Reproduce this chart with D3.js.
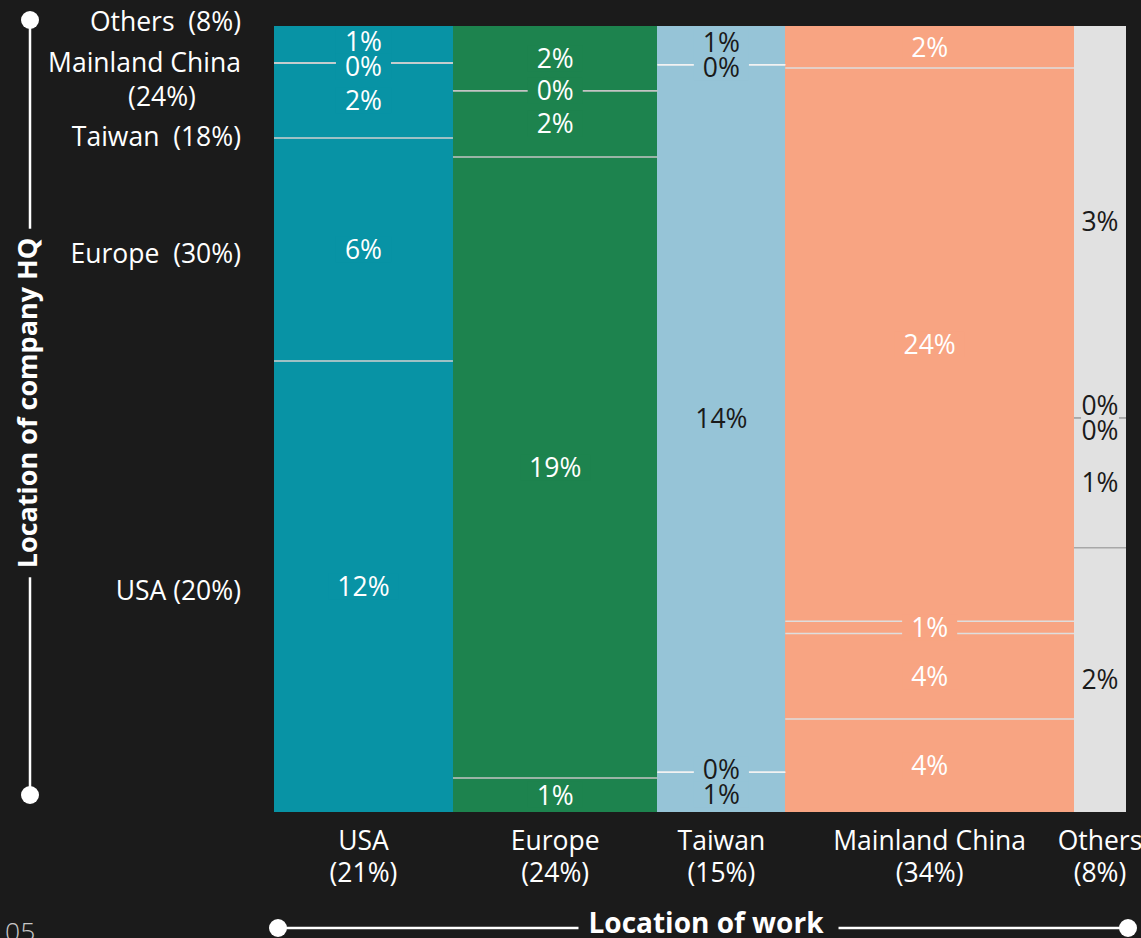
<!DOCTYPE html>
<html><head><meta charset="utf-8">
<script src="https://cdn.jsdelivr.net/npm/d3@7"></script>
<style>
html,body{margin:0;padding:0;background:#1b1b1b;}
svg{display:block;font-family:"Open Sans","Noto Sans",sans-serif;}
text{white-space:pre;}
</style></head><body>
<svg id="chart" width="1141" height="938"></svg>
<script>
// ---------------- data ----------------
const workLocations = ["USA", "Europe", "Taiwan", "Mainland China", "Others"];
const workShareLabels = ["(21%)", "(24%)", "(15%)", "(34%)", "(8%)"];
const hqLocations = ["USA", "Europe", "Taiwan", "Mainland China", "Others"];
const hqLabelLines = [["USA (20%)"], ["Europe  (30%)"], ["Taiwan  (18%)"], ["Mainland China", "(24%)"], ["Others  (8%)"]];
// share of all workers (%) by HQ location [USA, Europe, Taiwan, Mainland China, Others], per work location
const workInUSA    = [12.05, 5.96, 2.00, 0, 0.99];
const workInEurope = [1.04, 18.96, 2.02, 0, 1.98];
const workInTaiwan = [0.76, 0, 13.50, 0, 0.74];
const workInChina  = [4.01, 3.68, 0.53, 23.85, 1.81];
const workInOthers = [2.05, 1.01, 0, 0, 3.04];
const columnColors = ["#0893a5", "#1d834e", "#96c4d7", "#f8a482", "#e1e1e1"];
const cellTextColors = ["#ffffff", "#ffffff", "#1a1a1a", "#ffffff", "#1a1a1a"];
const separatorColors = ["#d0d0d0", "#c4c4c4", "#f2f2f2", "#dedede", "#a8a8a8"];
const yTitle = "Location of company HQ";
const xTitle = "Location of work";
const pageNumber = "05";

// ---------------- layout ----------------
const W = 1141, H = 938;
const plot = {left: 274, right: 1126, top: 26, bottom: 812};
const FS = 26.5;

const svg = d3.select("#chart");
svg.append("rect").attr("width", W).attr("height", H).attr("fill", "#1b1b1b");

const columnValues = [workInUSA, workInEurope, workInTaiwan, workInChina, workInOthers];
let acc = 0;
const columns = workLocations.map((name, i) => {
  const values = columnValues[i];
  const total = d3.sum(values);
  const c = {name, i, values, total, x0: acc};
  acc += total; c.x1 = acc;
  let a = 0;
  c.cells = values.map((v, r) => {
    const cell = {col: c, r, v, f0: a / total};
    a += v; cell.f1 = a / total;
    return cell;
  });
  return c;
});
const grand = acc;

const x = d3.scaleLinear().domain([0, grand]).range([plot.left, plot.right]);
const y = d3.scaleLinear().domain([0, 1]).range([plot.bottom, plot.top]);

// simple 1-D label de-overlap (cluster merging)
function declutter(items, pad, minY, maxY) {
  let clusters = items.map(it => ({items: [it]}));
  function layout(cl) {
    const offs = [0];
    for (let k = 1; k < cl.items.length; k++)
      offs.push(offs[k - 1] + (cl.items[k - 1].h + cl.items[k].h) / 2 + pad);
    let p = d3.mean(cl.items.map((it, k) => it.target - offs[k]));
    const first = cl.items[0], last = cl.items[cl.items.length - 1];
    if (p + offs[offs.length - 1] + last.h / 2 > maxY) p = maxY - offs[offs.length - 1] - last.h / 2;
    if (p - first.h / 2 < minY) p = minY + first.h / 2;
    cl.items.forEach((it, k) => it.pos = p + offs[k]);
  }
  let changed = true;
  while (changed) {
    changed = false;
    clusters.forEach(layout);
    for (let k = 0; k < clusters.length - 1; k++) {
      const a = clusters[k].items[clusters[k].items.length - 1];
      const b = clusters[k + 1].items[0];
      if (a.pos + a.h / 2 + pad > b.pos - b.h / 2) {
        clusters[k].items = clusters[k].items.concat(clusters[k + 1].items);
        clusters.splice(k + 1, 1);
        changed = true;
        break;
      }
    }
  }
  return items;
}

// ---------------- cells ----------------
const gCells = svg.append("g");
columns.forEach(c => {
  gCells.selectAll(null).data(c.cells).join("rect")
    .attr("x", x(c.x0)).attr("width", x(c.x1) - x(c.x0))
    .attr("y", d => y(d.f1)).attr("height", d => y(d.f0) - y(d.f1))
    .attr("fill", columnColors[c.i])
    .attr("shape-rendering", "crispEdges");
});

// separators
const gSep = svg.append("g");
columns.forEach(c => {
  gSep.selectAll(null).data(c.cells.filter(d => d.r > 0)).join("line")
    .attr("x1", x(c.x0)).attr("x2", x(c.x1))
    .attr("y1", d => y(d.f0)).attr("y2", d => y(d.f0))
    .attr("stroke", separatorColors[c.i]).attr("stroke-width", 1.5);
});

// cell labels
const fmt = d3.format(".0f");
const gLab = svg.append("g");
columns.forEach(c => {
  const items = c.cells.map(d => ({cell: d, target: (y(d.f0) + y(d.f1)) / 2, h: 20}));
  items.sort((a, b) => a.target - b.target || b.cell.r - a.cell.r);
  declutter(items, 5, plot.top, plot.bottom);
  const x0 = x(c.x0), x1 = x(c.x1);
  const cx = (x0 + x1) / 2;
  items.forEach(it => {
    const g = gLab.append("g");
    const bg = g.append("rect").attr("fill", columnColors[c.i]);
    const t = g.append("text")
      .attr("x", cx).attr("y", it.pos).attr("dy", "0.36em")
      .attr("text-anchor", "middle").attr("font-size", FS)
      .attr("fill", cellTextColors[c.i])
      .text(fmt(it.cell.v) + "%");
    const w = Math.min(t.node().getComputedTextLength() + 18, (x1 - x0) - 14);
    bg.attr("x", cx - w / 2).attr("width", w)
      .attr("y", it.pos - 13).attr("height", 26);
  });
});

// ---------------- x labels ----------------
const gX = svg.append("g").attr("fill", "#ffffff").attr("font-size", FS).attr("text-anchor", "middle");
columns.forEach(c => {
  const cx = (x(c.x0) + x(c.x1)) / 2;
  gX.append("text").attr("x", cx).attr("y", 850).text(c.name);
  gX.append("text").attr("x", cx).attr("y", 882).text(workShareLabels[c.i]);
});

// ---------------- y labels ----------------
const lineH = 34;
const yItems = columns[0].cells.map(d => ({r: d.r, target: (y(d.f0) + y(d.f1)) / 2, h: hqLabelLines[d.r].length * lineH}));
yItems.sort((a, b) => a.target - b.target || b.r - a.r);
declutter(yItems, 6.5, 1, plot.bottom);
const gY = svg.append("g").attr("fill", "#ffffff").attr("font-size", FS);
yItems.forEach(it => {
  const lines = hqLabelLines[it.r];
  lines.forEach((ln, k) => {
    const yy = it.pos + (k - (lines.length - 1) / 2) * lineH;
    gY.append("text")
      .attr("x", k === 0 ? 241 : 162)
      .attr("text-anchor", k === 0 ? "end" : "middle")
      .attr("y", yy).attr("dy", "0.5em")
      .text(ln);
  });
});

// ---------------- axis titles ----------------
const axisCol = "#ffffff";
const vx = 30, vTop = 20, vBot = 795, vMid = 403;
const vt = svg.append("text")
  .attr("transform", `translate(37,${vMid}) rotate(-90)`)
  .attr("text-anchor", "middle").attr("font-size", 27).attr("font-weight", 700)
  .attr("fill", axisCol).text(yTitle);
const vLen = vt.node().getComputedTextLength();
svg.append("line").attr("x1", vx).attr("x2", vx).attr("y1", vTop).attr("y2", vMid - vLen / 2 - 9)
  .attr("stroke", axisCol).attr("stroke-width", 2.5);
svg.append("line").attr("x1", vx).attr("x2", vx).attr("y1", vMid + vLen / 2 + 9).attr("y2", vBot)
  .attr("stroke", axisCol).attr("stroke-width", 2.5);
svg.append("circle").attr("cx", vx).attr("cy", vTop).attr("r", 9).attr("fill", axisCol);
svg.append("circle").attr("cx", vx).attr("cy", vBot).attr("r", 9).attr("fill", axisCol);

const hy = 928, hL = 278, hR = 1128, hMid = 706;
const ht = svg.append("text")
  .attr("x", hMid).attr("y", 933)
  .attr("text-anchor", "middle").attr("font-size", 28).attr("font-weight", 700)
  .attr("fill", axisCol).text(xTitle);
const hLen = ht.node().getComputedTextLength();
svg.append("line").attr("x1", hL).attr("x2", hMid - hLen / 2 - 10).attr("y1", hy).attr("y2", hy)
  .attr("stroke", axisCol).attr("stroke-width", 2.5);
svg.append("line").attr("x1", hMid + hLen / 2 + 15).attr("x2", hR).attr("y1", hy).attr("y2", hy)
  .attr("stroke", axisCol).attr("stroke-width", 2.5);
svg.append("circle").attr("cx", hL).attr("cy", hy).attr("r", 9).attr("fill", axisCol);
svg.append("circle").attr("cx", hR).attr("cy", hy).attr("r", 9).attr("fill", axisCol);

svg.append("text").attr("x", 5).attr("y", 941).attr("font-size", FS).attr("font-weight", 300)
  .attr("fill", "#c8c8c8").text(pageNumber);
</script>
</body></html>
